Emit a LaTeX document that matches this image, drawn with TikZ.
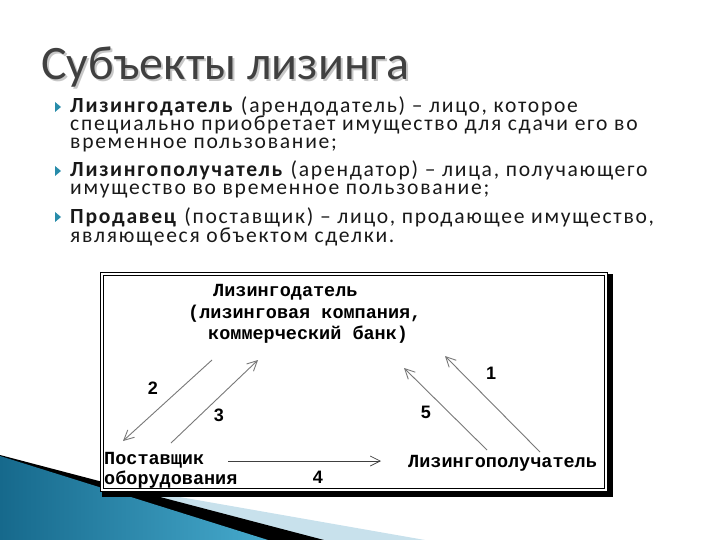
\documentclass[tikz,border=0pt]{standalone}
\usepackage{fontspec}
\setmainfont{Carlito}
\newfontfamily\bodyf[LetterSpace=8]{Carlito}
\newfontfamily\monof{Liberation Mono}
\newfontfamily\numf{Liberation Sans}
\usetikzlibrary{arrows.meta}
\definecolor{tealdark}{RGB}{22,105,140}
\definecolor{teallight}{RGB}{70,170,205}
\definecolor{paleblue}{RGB}{200,225,236}
\definecolor{bulletc}{RGB}{40,140,170}
\definecolor{titlec}{RGB}{64,64,64}
\definecolor{arrowc}{RGB}{120,120,120}
\tikzset{
  bul/.style={fill=bulletc},
  line/.style={anchor=base west, inner sep=0pt, font=\bodyf\fontsize{21.6}{18}\selectfont, text=black!90, text height=11pt, text depth=3pt},
  dtext/.style={anchor=base west, inner sep=0pt, font=\monof\bfseries\fontsize{18.5}{20}\selectfont},
  num/.style={inner sep=0pt, font=\numf\bfseries\fontsize{18}{20}\selectfont},
  arr/.style={draw=arrowc, line width=0.9pt, -{Straight Barb[length=10pt,width=10pt]}},
}
\begin{document}
\begin{tikzpicture}[x=1pt,y=-1pt]
\useasboundingbox (0,0) rectangle (720,540);
% decorative wedge
\fill[paleblue] (100,483) -- (425,540) -- (100,540) -- cycle;
\fill[black] (0,455) -- (324,540) -- (0,540) -- cycle;
\shade[left color=tealdark, right color=teallight] (0,456) -- (268,540) -- (0,540) -- cycle;
% title
\node[anchor=base west, inner sep=0pt, text=black!22, font=\fontsize{48}{50}\selectfont] at (43,82) {Субъекты лизинга};
\node[anchor=base west, inner sep=0pt, text=titlec, font=\fontsize{48}{50}\selectfont] (title) at (41,80) {Субъекты лизинга};
% bullets
\fill[bul] (55,102) -- (61,107) -- (55,112) -- cycle;
\fill[bul] (55,166) -- (61,171) -- (55,176) -- cycle;
\fill[bul] (55,212) -- (61,217) -- (55,222) -- cycle;
\node[line] (l1) at (70,113) {\textbf{Лизингодатель} (арендодатель) – лицо, которое};
\node[line] (l2) at (70,131) {специально приобретает имущество для сдачи его во};
\node[line] (l3) at (70,149) {временное пользование;};
\node[line] (l4) at (70,177) {\textbf{Лизингополучатель} (арендатор) – лица, получающего};
\node[line] (l5) at (70,195) {имущество во временное пользование;};
\node[line] (l6) at (70,223) {\textbf{Продавец} (поставщик) – лицо, продающее имущество,};
\node[line] (l7) at (70,242) {являющееся объектом сделки.};
% diagram box
\fill[black] (102,274) rectangle (613,497);
\filldraw[fill=white, draw=black, line width=1pt] (100,272) rectangle (607,491);
\draw[black, line width=1pt] (103,275) rectangle (604,488);
% diagram texts
\node[dtext] (lessor1) at (213,296) {Лизингодатель};
\node[dtext] (lessor2) at (188,318) {(лизинговая компания,};
\node[dtext] (lessor3) at (208,339) {коммерческий банк)};
\node[dtext] (sup1) at (104,464) {Поставщик};
\node[dtext] (sup2) at (104,484) {оборудования};
\node[dtext] (lessee) at (408,467) {Лизингополучатель};
% arrow end points
\coordinate (a2s) at (212,360); \coordinate (a2e) at (123,441);
\coordinate (a3s) at (171,443); \coordinate (a3e) at (258,360);
\coordinate (a1s) at (540,452); \coordinate (a1e) at (445,356);
\coordinate (a5s) at (487,450); \coordinate (a5e) at (404,368);
\coordinate (a4s) at (228,461); \coordinate (a4e) at (381,461);
\draw[arr] (a2s) -- (a2e);
\draw[arr] (a3s) -- (a3e);
\draw[arr] (a1s) -- (a1e);
\draw[arr] (a5s) -- (a5e);
\draw[arr, draw=black!75, line width=0.7pt] (a4s) -- (a4e);
\node[num] (n2) at (153,388) {2};
\node[num] (n3) at (219,415) {3};
\node[num] (n1) at (491,373) {1};
\node[num] (n5) at (426,412) {5};
\node[num] (n4) at (318,477) {4};
\end{tikzpicture}
\end{document}
